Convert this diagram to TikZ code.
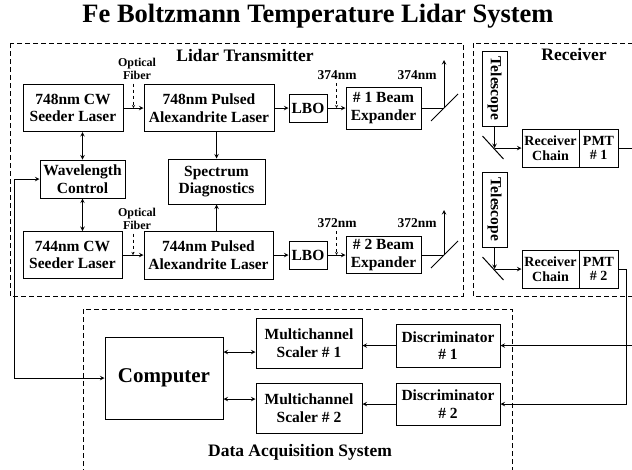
\documentclass[tikz,border=0pt]{standalone}
\usepackage{fontspec}
\setmainfont{Liberation Serif}

\begin{document}
\begin{tikzpicture}[x=1pt, y=-1pt, line width=1pt, text=black, draw=black, >=stealth,
    box/.style={draw, rectangle, inner sep=1pt, align=center,
      font=\fontsize{15.5}{17.5}\selectfont\bfseries},
    rbox/.style={draw, rectangle, inner sep=1pt, align=center, minimum height=38pt,
      font=\fontsize{14}{14.5}\selectfont\bfseries},
    head/.style={font=\fontsize{17.5}{20}\selectfont\bfseries},
    tag/.style={font=\fontsize{13.5}{15}\selectfont\bfseries},
    fib/.style={align=center, font=\fontsize{12}{13}\selectfont\bfseries},
    area/.style={thin, dash pattern=on 5pt off 3pt}]

        \useasboundingbox (0,0) rectangle (632,469);

        % Title and the three dashed sub-systems
        \node[font=\fontsize{26.5}{30}\selectfont\bfseries] (title) at (318,16) {Fe Boltzmann Temperature Lidar System};
        \draw[area] (10,43) rectangle (463,296);
        \draw[area] (473,43) rectangle (640,296);
        \draw[area] (83,309) rectangle (512,480);
        \node[head] (txlbl) at (245,56) {Lidar Transmitter};
        \node[head] (rxlbl) at (574,55) {Receiver};
        \node[head] (daqlbl) at (300,452) {Data Acquisition System};

        % Transmitter boxes
        \node[box, minimum width=100pt, minimum height=47pt] (seedA) at (73,108) {748nm CW\\Seeder Laser};
        \node[box, minimum width=130pt, minimum height=47pt] (pulseA) at (209,108) {748nm Pulsed\\Alexandrite Laser};
        \node[box, minimum width=38pt, minimum height=28pt] (lboA) at (308,108) {LBO};
        \node[box, minimum width=75pt, minimum height=42pt] (expA) at (383.5,108) {\# 1 Beam\\Expander};
        \node[box, minimum width=85pt, minimum height=38pt] (wlc) at (82.5,179) {Wavelength\\Control};
        \node[box, minimum width=97pt, minimum height=45pt] (spec) at (216.5,181.5) {Spectrum\\Diagnostics};
        \node[box, minimum width=99pt, minimum height=47pt] (seedB) at (72.5,255) {744nm CW\\Seeder Laser};
        \node[box, minimum width=129pt, minimum height=48pt] (pulseB) at (208.5,255) {744nm Pulsed\\Alexandrite Laser};
        \node[box, minimum width=38pt, minimum height=28pt] (lboB) at (308,255) {LBO};
        \node[box, minimum width=75pt, minimum height=37pt] (expB) at (383.5,255) {\# 2 Beam\\Expander};

        % Small labels over the beams
        \node[fib] (fibA) at (137,69) {Optical\\Fiber};
        \node[fib] (fibB) at (137,219) {Optical\\Fiber};
        \node[tag] (nmA) at (337,75) {374nm};
        \node[tag] (outA) at (417,75) {374nm};
        \node[tag] (nmB) at (337,223) {372nm};
        \node[tag] (outB) at (417,223) {372nm};

        % Beam paths of the transmitter
        \path (seedA.east) -- coordinate[pos=0.5] (jA) (pulseA.west);
        \path (seedB.east) -- coordinate[pos=0.5] (jB) (pulseB.west);
        \path (lboA.east) -- coordinate[pos=0.5] (kA) (expA.west);
        \path (lboB.east) -- coordinate[pos=0.5] (kB) (expB.west);
        \draw[->] (seedA.east) -- (pulseA.west);
        \draw[->] (seedB.east) -- (pulseB.west);
        \draw[->] (pulseA.east) -- (lboA.west);
        \draw[->] (pulseB.east) -- (lboB.west);
        \draw[->] (lboA.east) -- (expA.west);
        \draw[->] (lboB.east) -- (expB.west);
        \draw[->, dashed, thin] (fibA.south -| jA) -- (jA);
        \draw[->, dashed, thin] (fibB.south -| jB) -- (jB);
        \draw[->, dashed, thin] (nmA.south -| kA) -- (kA);
        \draw[->, dashed, thin] (nmB.south -| kB) -- (kB);

        % Control and diagnostics links
        \draw[<->] (seedA.south -| wlc.north) -- (wlc.north);
        \draw[<->] (wlc.south) -- (seedB.north -| wlc.south);
        \draw[->] (spec.north |- pulseA.south) -- (spec.north);
        \draw[->] (spec.south |- pulseB.north) -- (spec.south);

        % Output mirrors
        \coordinate (mirA) at (444,108);
        \coordinate (mirB) at (444,255);
        \draw (expA.east) -- (mirA);
        \draw (expB.east) -- (mirB);
        \draw[->] (mirA) -- ++(0,-48);
        \draw[->] (mirB) -- ++(0,-45);
        \draw ([shift={(-13,13)}]mirA) -- ([shift={(14,-14)}]mirA);
        \draw ([shift={(-13,13)}]mirB) -- ([shift={(14,-14)}]mirB);

        % Receiver
        \node[box, rotate=-90, minimum width=75pt, minimum height=25pt] (telA) at (494.5,88.5) {Telescope};
        \node[box, rotate=-90, minimum width=75pt, minimum height=25pt] (telB) at (494.5,209.5) {Telescope};
        \node[rbox, minimum width=57pt] (rcvA) at (550.5,148) {Receiver\\Chain};
        \node[rbox, minimum width=39pt] (pmtA) at (598.5,148) {PMT\\\# 1};
        \node[rbox, minimum width=57pt] (rcvB) at (550.5,269) {Receiver\\Chain};
        \node[rbox, minimum width=39pt] (pmtB) at (598.5,269) {PMT\\\# 2};
        \coordinate (mA) at (telA.east |- rcvA.west);
        \coordinate (mB) at (telB.east |- rcvB.west);
        \draw[->] (telA.east) -- (mA);
        \draw[->] (telB.east) -- (mB);
        \draw[->] (mA) -- (rcvA.west);
        \draw[->] (mB) -- (rcvB.west);
        \draw ([shift={(-12,-12)}]mA) -- ([shift={(9,11)}]mA);
        \draw ([shift={(-12,-12)}]mB) -- ([shift={(9,11)}]mB);

        % Data acquisition boxes
        \node[box, font=\fontsize{21}{24}\selectfont\bfseries, minimum width=118pt, minimum height=82pt] (cmp) at (164,378) {Computer};
        \node[box, minimum width=106pt, minimum height=50pt] (msA) at (309,343) {Multichannel\\Scaler \# 1};
        \node[box, minimum width=106pt, minimum height=50pt] (msB) at (309,408) {Multichannel\\Scaler \# 2};
        \node[box, minimum width=104pt, minimum height=43pt] (discA) at (448,345.5) {Discriminator\\\# 1};
        \node[box, minimum width=104pt, minimum height=42pt] (discB) at (448,404) {Discriminator\\\# 2};

        % Signal and control lines
        \coordinate (inA) at ([yshift=-9pt]msA.west);
        \coordinate (inB) at ([yshift=9pt]msB.west);
        \draw[<->] (cmp.east |- inA) -- (inA);
        \draw[<->] (cmp.east |- inB) -- (inB);
        \draw[->] (discA.west) -- (msA.east |- discA.west);
        \draw[->] (discB.west) -- (msB.east |- discB.west);
        \coordinate (edgeA) at (636,148);
        \coordinate (turnB) at (626,269);
        \draw[->] (pmtA.east) -- (edgeA) |- (discA.east);
        \draw[->] (pmtB.east) -- (turnB) |- (discB.east);
        \draw[<->] (wlc.west) -- ++(-25,0) |- (cmp.west);

      \end{tikzpicture}
\end{document}
